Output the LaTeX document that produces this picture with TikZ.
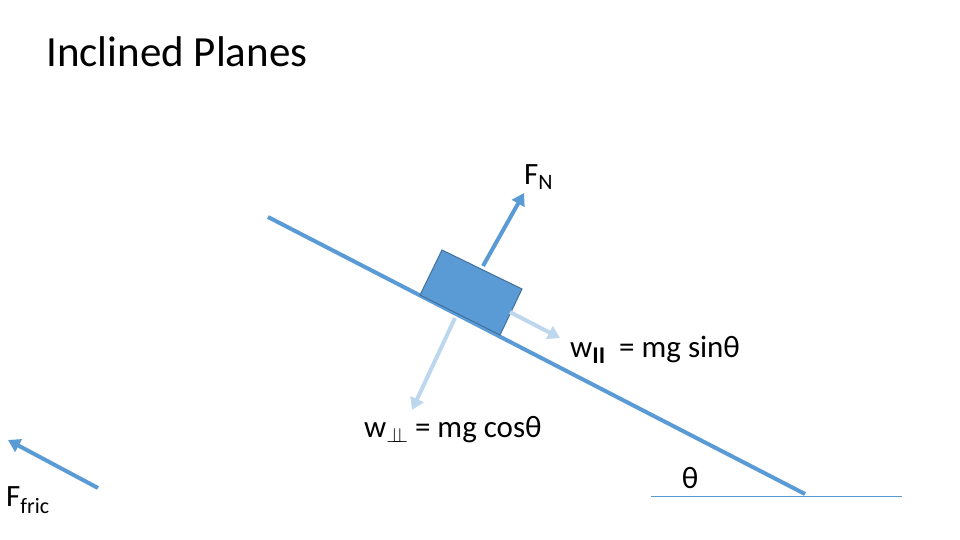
\documentclass[tikz,border=0pt]{standalone}
\usepackage{fontspec}
\setmainfont{Carlito}
\usetikzlibrary{arrows.meta}
\definecolor{blu}{HTML}{5B9BD5}
\definecolor{lblu}{HTML}{BDD7EE}
\definecolor{dblu}{HTML}{41719C}
\begin{document}
\begin{tikzpicture}[x=1pt,y=-1pt,
  arr/.style={line width=4pt,-{Triangle[length=12pt,width=14pt]}},
  lab/.style={inner sep=0pt,font=\fontsize{31}{34}\selectfont}]
\useasboundingbox (0,0) rectangle (960,540);
\node[anchor=west,inner sep=0pt,font=\fontsize{43}{48}\selectfont] (title) at (46,52) {Inclined Planes};
\coordinate (i1) at (268,217); \coordinate (i2) at (805,494);
\draw[blu,line width=4pt] (i1) -- (i2);
\coordinate (g1) at (651,496); \coordinate (g2) at (902,496);
\draw[blu,line width=1pt] (g1) -- (g2);
\draw[fill=blu,draw=dblu,line width=1pt] (442,250) -- (522,289) -- (500,335) -- (420,295) -- cycle;
\coordinate (fn0) at (483,266); \coordinate (fn1) at (524,193);
\draw[arr,blu] (fn0) -- (fn1);
\node[lab,anchor=west] (fn) at (524,177) {F\textsubscript{\fontsize{22}{24}\selectfont N}};
\coordinate (wp0) at (510,312); \coordinate (wp1) at (560,338);
\draw[arr,lblu] (wp0) -- (wp1);
\node[lab,anchor=west] (wpar) at (570,350) {w\raisebox{-6pt}{\fontsize{24}{26}\selectfont\bfseries II}\ \ = mg sinθ};
\coordinate (wn0) at (455,318); \coordinate (wn1) at (412,410);
\draw[arr,lblu] (wn0) -- (wn1);
\node[lab,anchor=west] (wperp) at (364,430) {w\raisebox{-5pt}{\fontsize{22}{24}\selectfont$\bot$}\kern-1pt\raisebox{-5pt}{\fontsize{22}{24}\selectfont\kern-9.6pt$\bot$} = mg cosθ};
\coordinate (ff0) at (98,488); \coordinate (ff1) at (8,440);
\draw[arr,blu] (ff0) -- (ff1);
\node[lab,anchor=west] (ff) at (6,500) {F\textsubscript{\fontsize{22}{24}\selectfont fric}};
\node[lab] (th) at (690,478) {θ};
\end{tikzpicture}
\end{document}
